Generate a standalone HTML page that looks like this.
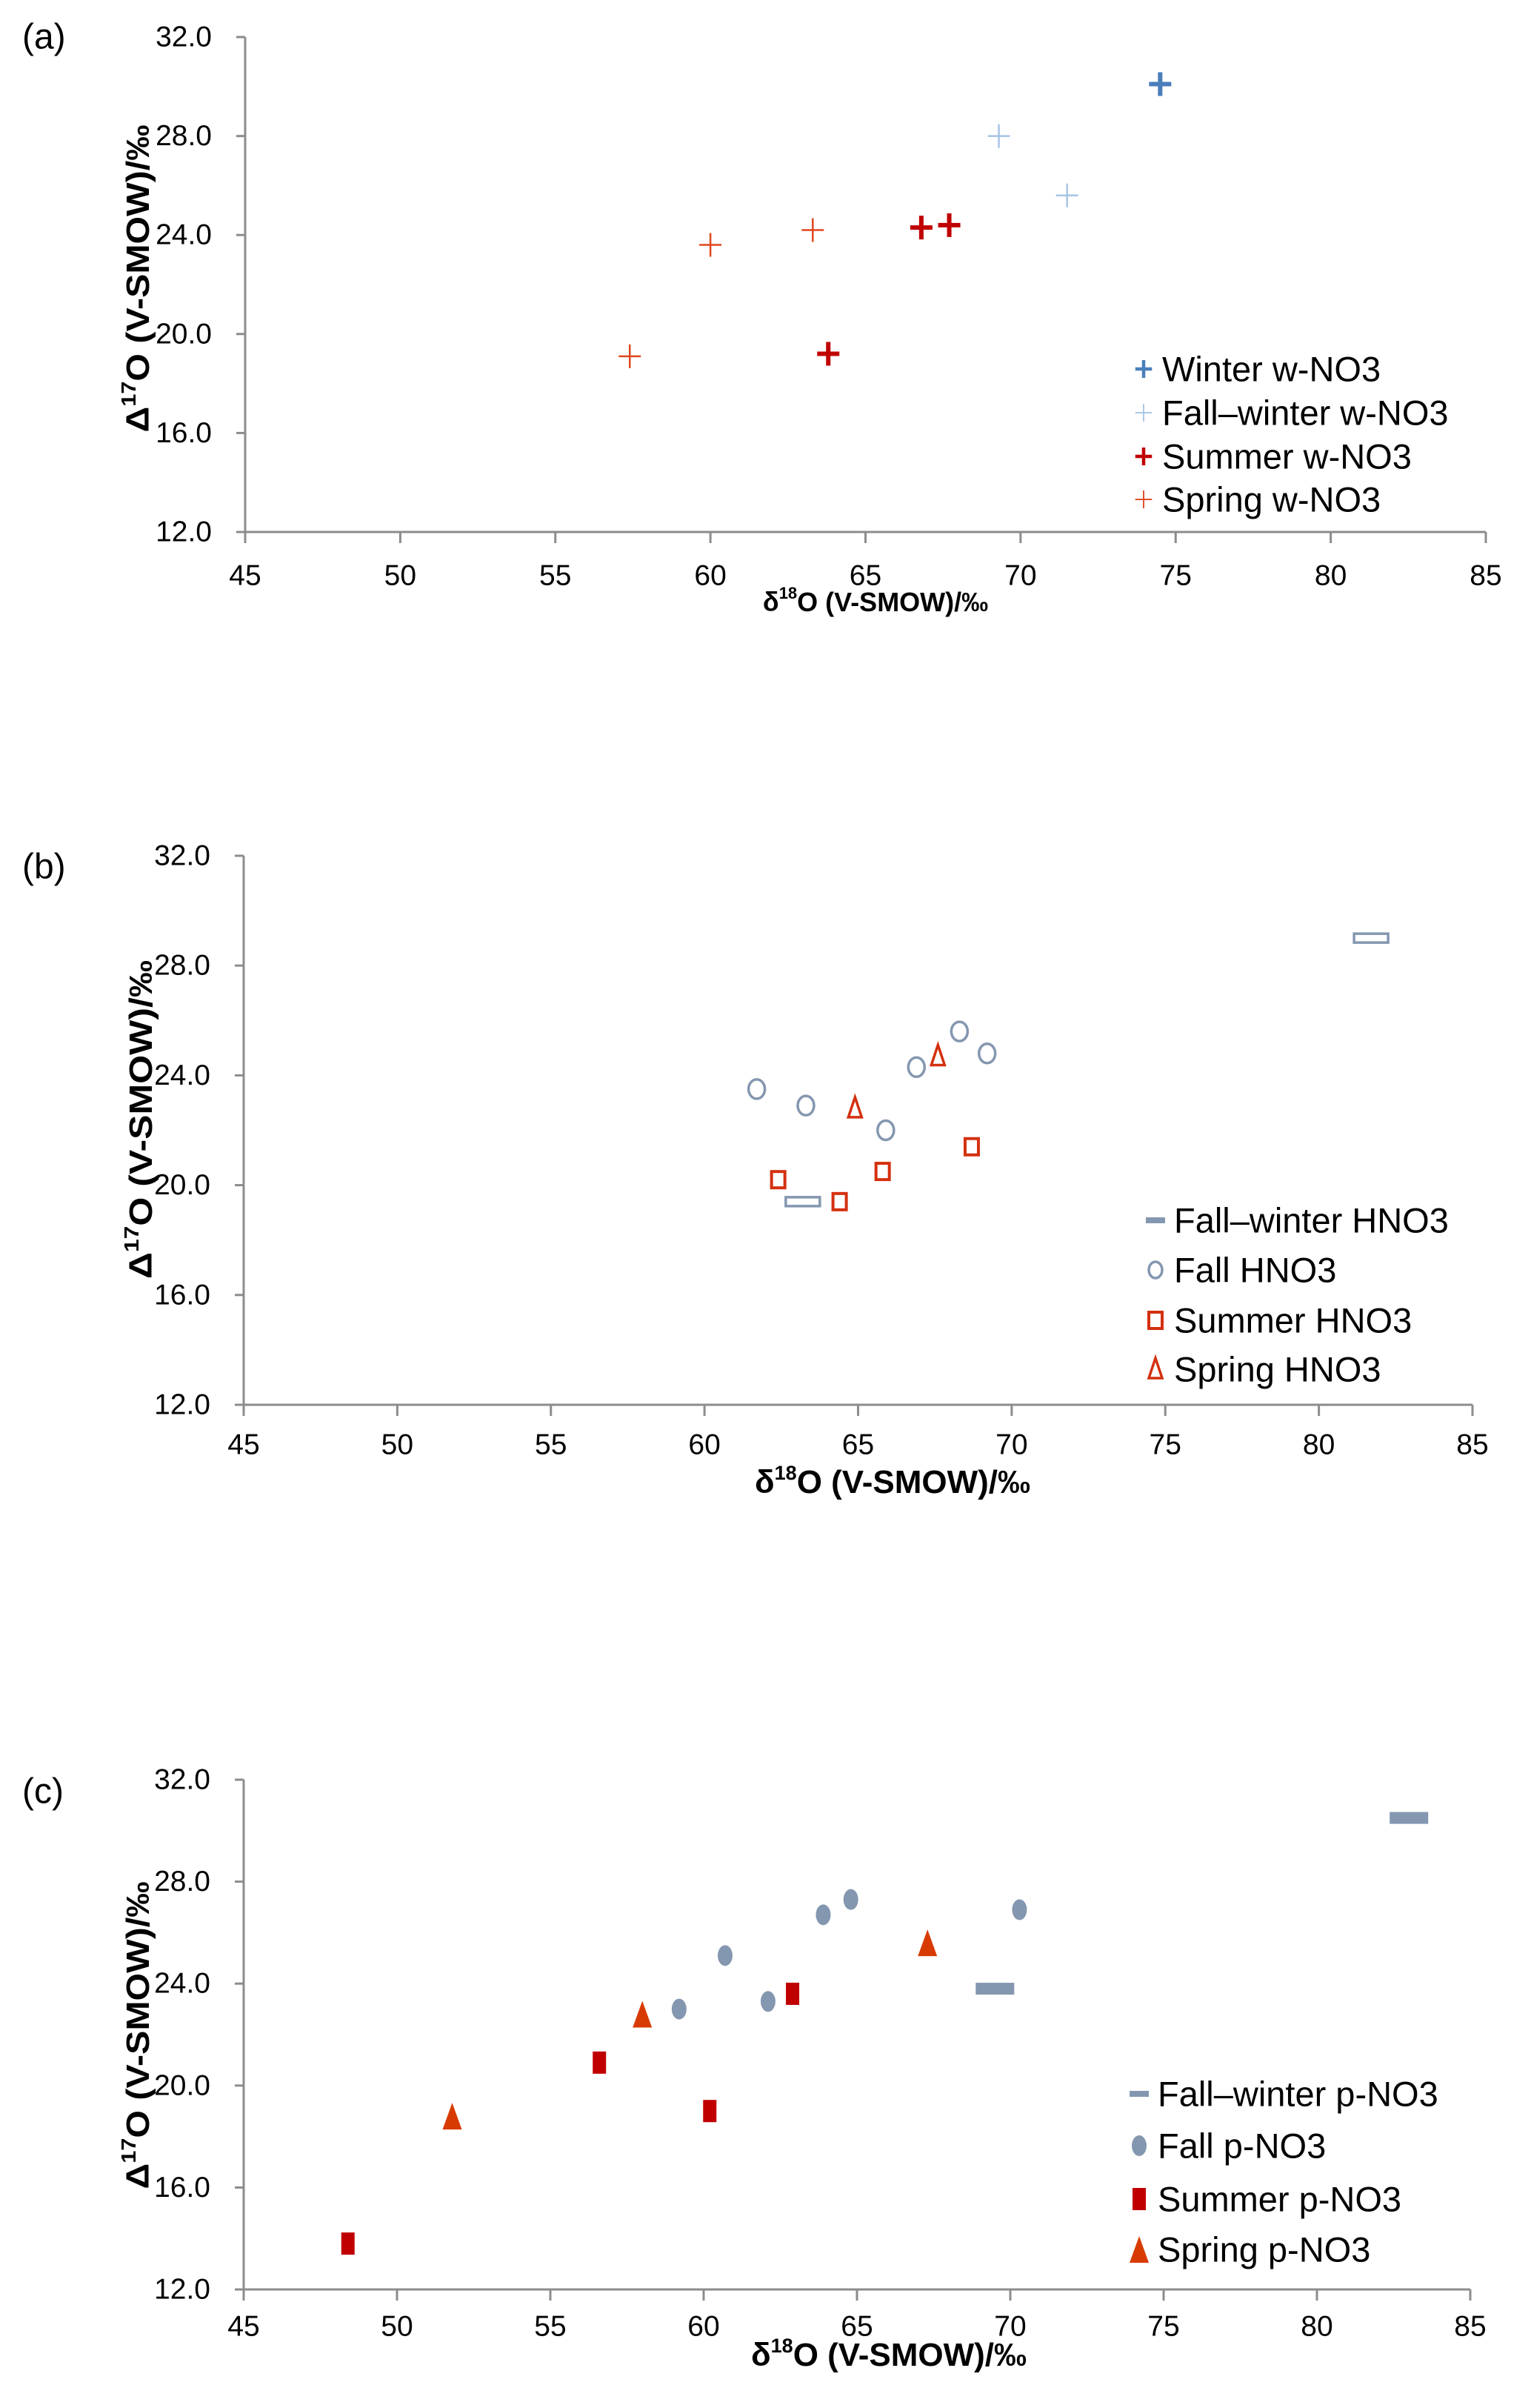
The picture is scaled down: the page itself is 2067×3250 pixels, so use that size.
<!DOCTYPE html>
<html><head><meta charset="utf-8">
<style>
html,body{margin:0;padding:0;background:#fff;}
svg{display:block;font-family:"Liberation Sans",sans-serif;}
</style></head>
<body>
<svg id="chart" width="2067" height="3250" viewBox="0 0 2067 3250" xmlns="http://www.w3.org/2000/svg"></svg>
<script>
// ---------- data ----------
const xTicks = [45,50,55,60,65,70,75,80,85];
const yTicks = [12,16,20,24,28,32];

// panel a
const aWinterX = [74.5];            const aWinterY = [30.1];
const aFallWinterX = [69.3,71.5];   const aFallWinterY = [28.0,25.6];
const aSummerX = [63.8,66.8,67.7];  const aSummerY = [19.2,24.3,24.4];
const aSpringX = [57.4,60.0,63.3];  const aSpringY = [19.1,23.6,24.2];

// panel b
const bFallWinterX = [81.7,63.2];   const bFallWinterY = [29.0,19.4];
const bFallX = [61.7,63.3,65.9,66.9,68.3,69.2]; const bFallY = [23.5,22.9,22.0,24.3,25.6,24.8];
const bSummerX = [62.4,64.4,65.8,68.7];         const bSummerY = [20.2,19.4,20.5,21.4];
const bSpringX = [64.9,67.6];                   const bSpringY = [22.8,24.7];

// panel c
const cFallWinterX = [83.0,69.5];   const cFallWinterY = [30.5,23.8];
const cFallX = [59.2,60.7,62.1,63.9,64.8,70.3]; const cFallY = [23.0,25.1,23.3,26.7,27.3,26.9];
const cSummerX = [48.4,56.6,60.2,62.9];         const cSummerY = [13.8,20.9,19.0,23.6];
const cSpringX = [51.8,58.0,67.3];              const cSpringY = [18.8,22.8,25.6];

// ---------- helpers ----------
const NS = "http://www.w3.org/2000/svg";
const svg = document.getElementById('chart');
function mk(tag, attrs, parent){
  const e = document.createElementNS(NS, tag);
  for (const k in attrs) e.setAttribute(k, attrs[k]);
  (parent||svg).appendChild(e);
  return e;
}
function text(str, x, y, size, anchor, parent, weight){
  const t = mk('text',{x:x,y:y,'font-size':size,'text-anchor':anchor||'start','dominant-baseline':'central',fill:'#000','font-weight':weight||'normal'},parent);
  t.textContent = str;
  return t;
}

function marker(g, type, cx, cy, color){
  let e;
  if (type==='crossBold'){
    e = mk('path',{d:`M${cx-15},${cy}H${cx+15}M${cx},${cy-16}V${cy+16}`,stroke:color,'stroke-width':6,fill:'none'},g);
  } else if (type==='crossThin'){
    e = mk('path',{d:`M${cx-15},${cy}H${cx+15}M${cx},${cy-16}V${cy+16}`,stroke:color,'stroke-width':2.5,fill:'none'},g);
  } else if (type==='dashOpen'){
    e = mk('rect',{x:cx-23,y:cy-6,width:46,height:12,fill:'none',stroke:color,'stroke-width':3.5},g);
  } else if (type==='circleOpen'){
    e = mk('ellipse',{cx:cx,cy:cy,rx:11,ry:13,fill:'none',stroke:color,'stroke-width':3.5},g);
  } else if (type==='squareOpen'){
    e = mk('rect',{x:cx-9,y:cy-11,width:18,height:22,fill:'none',stroke:color,'stroke-width':4},g);
  } else if (type==='triOpen'){
    e = mk('path',{d:`M${cx},${cy-15}L${cx+9},${cy+12}L${cx-9},${cy+12}Z`,fill:'none',stroke:color,'stroke-width':3.5},g);
  } else if (type==='dashFill'){
    e = mk('rect',{x:cx-26,y:cy-8,width:52,height:16,fill:color},g);
  } else if (type==='circleFill'){
    e = mk('ellipse',{cx:cx,cy:cy,rx:10,ry:14,fill:color},g);
  } else if (type==='squareFill'){
    e = mk('rect',{x:cx-9,y:cy-15,width:18,height:30,fill:color},g);
  } else if (type==='triFill'){
    e = mk('path',{d:`M${cx},${cy-18}L${cx+13},${cy+18}L${cx-13},${cy+18}Z`,fill:color},g);
  }
  return e;
}

function panel(cfg){
  const g = mk('g',{});
  
  
  const X = v => cfg.x0 + (v - 45) / 40 * (cfg.x1 - cfg.x0);
  const Y = v => cfg.y1 - (v - 12) / 20 * (cfg.y1 - cfg.y0);

  const ax = mk('path',{d:`M${cfg.x0},${cfg.y0}V${cfg.y1}H${cfg.x1}`,stroke:'#8c8c8c','stroke-width':3,fill:'none'},g);
  
  
  yTicks.forEach(v=>{
    const tk = mk('line',{x1:cfg.x0-12,x2:cfg.x0,y1:Y(v),y2:Y(v),stroke:'#8c8c8c','stroke-width':3},g);
    
    
    const t = text(v.toFixed(1), cfg.x0-45, Y(v), 39, 'end', g);
    
    
  });
  xTicks.forEach(v=>{
    const tk = mk('line',{x1:X(v),x2:X(v),y1:cfg.y1,y2:cfg.y1+15,stroke:'#8c8c8c','stroke-width':3},g);
    
    
    const t = text(String(v), X(v), cfg.xLabY, 39, 'middle', g);
    
    
  });

  const pl = text(cfg.label, 30, cfg.labY, 48, 'start', g);
  
  

  const xt = mk('text',{x:cfg.xTitleX,y:cfg.xTitleY,'font-size':cfg.xTitleSize,'text-anchor':'middle','dominant-baseline':'central','font-weight':'bold'},g);
  
  
  xt.innerHTML = 'δ<tspan font-size="'+Math.round(cfg.xTitleSize*0.62)+'" dy="-12">18</tspan><tspan dy="12">O (V-SMOW)/‰</tspan>';

  const yt = mk('text',{x:0,y:0,'font-size':44,'text-anchor':'middle','dominant-baseline':'central','font-weight':'bold',textLength:cfg.yTitleLen,lengthAdjust:'spacingAndGlyphs',transform:`translate(${cfg.yTitleX},${cfg.yTitleY}) rotate(-90)`},g);
  
  
  yt.innerHTML = 'Δ<tspan font-size="28" dy="-13">17</tspan><tspan dy="13">O (V-SMOW)/‰</tspan>';

  cfg.series.forEach((s, si)=>{
    const sg = mk('g',{},g);
    
    
    s.xs.forEach((xv,i)=>{
      const m = marker(sg, s.type, X(xv), Y(s.ys[i]), s.color);
      
      
    });
    const ly = cfg.legY[si];
    const lg = mk('g',{},g);
    
    
    let lt = s.type;
    if (lt==='dashOpen'||lt==='dashFill'){
      mk('rect',{x:cfg.legX-13,y:ly-4,width:26,height:8,fill:s.color},lg);
    } else {
      const mm = marker(lg, lt, cfg.legX, ly, s.color);
      if (lt==='circleOpen') {mm.setAttribute('rx',9);mm.setAttribute('ry',11);}
      if (lt==='crossBold'||lt==='crossThin') mm.setAttribute('transform',`translate(${cfg.legX},${ly}) scale(0.75) translate(${-cfg.legX},${-ly})`);
    }
    text(s.label, cfg.legX + 25, ly, 47, 'start', lg);
  });
}

panel({
  name:'panel-a', label:'(a)', labY:50,
  x0:331, x1:2006, y0:50, y1:718, xLabY:777,
  xTitleX:1182, xTitleY:812, xTitleSize:36,
  yTitleX:186, yTitleY:376, yTitleLen:415,
  legX:1544, legY:[498,557,616,674],
  series:[
    {key:'winter-w-no3', label:'Winter w-NO3', type:'crossBold', color:'#4a7ebb', xs:aWinterX, ys:aWinterY},
    {key:'fall-winter-w-no3', label:'Fall–winter w-NO3', type:'crossThin', color:'#a7c4e5', xs:aFallWinterX, ys:aFallWinterY},
    {key:'summer-w-no3', label:'Summer w-NO3', type:'crossBold', color:'#c00000', xs:aSummerX, ys:aSummerY},
    {key:'spring-w-no3', label:'Spring w-NO3', type:'crossThin', color:'#e0461f', xs:aSpringX, ys:aSpringY}
  ]
});

panel({
  name:'panel-b', label:'(b)', labY:1170,
  x0:329, x1:1988, y0:1155, y1:1896, xLabY:1950,
  xTitleX:1205, xTitleY:2000, xTitleSize:44,
  yTitleX:190, yTitleY:1511, yTitleLen:430,
  legX:1560, legY:[1647,1714,1782,1848],
  series:[
    {key:'fall-winter-hno3', label:'Fall–winter HNO3', type:'dashOpen', color:'#8497b0', xs:bFallWinterX, ys:bFallWinterY},
    {key:'fall-hno3', label:'Fall HNO3', type:'circleOpen', color:'#8497b0', xs:bFallX, ys:bFallY},
    {key:'summer-hno3', label:'Summer HNO3', type:'squareOpen', color:'#d4300f', xs:bSummerX, ys:bSummerY},
    {key:'spring-hno3', label:'Spring HNO3', type:'triOpen', color:'#d4300f', xs:bSpringX, ys:bSpringY}
  ]
});

panel({
  name:'panel-c', label:'(c)', labY:2418,
  x0:329, x1:1985, y0:2402, y1:3090, xLabY:3140,
  xTitleX:1200, xTitleY:3178, xTitleSize:44,
  yTitleX:186, yTitleY:2747, yTitleLen:415,
  legX:1538, legY:[2826,2896,2968,3036],
  series:[
    {key:'fall-winter-p-no3', label:'Fall–winter p-NO3', type:'dashFill', color:'#8497b0', xs:cFallWinterX, ys:cFallWinterY},
    {key:'fall-p-no3', label:'Fall p-NO3', type:'circleFill', color:'#8497b0', xs:cFallX, ys:cFallY},
    {key:'summer-p-no3', label:'Summer p-NO3', type:'squareFill', color:'#c00000', xs:cSummerX, ys:cSummerY},
    {key:'spring-p-no3', label:'Spring p-NO3', type:'triFill', color:'#d83b01', xs:cSpringX, ys:cSpringY}
  ]
});
</script>
</body></html>
